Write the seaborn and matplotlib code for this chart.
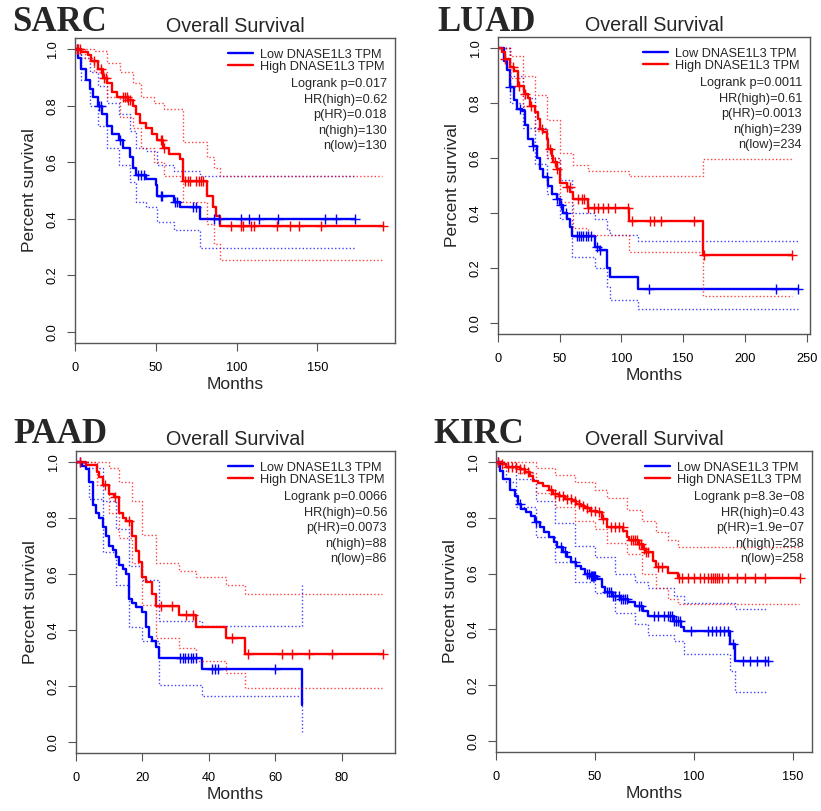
import numpy as np
import matplotlib
matplotlib.use("Agg")
import matplotlib.pyplot as plt
import seaborn as sns
from matplotlib.lines import Line2D

# ---- SARC ----
sarc_low_t = [0, 2, 4, 7, 9, 11, 14, 17, 20, 23, 27, 30, 34, 36, 38, 44, 50, 51, 61, 65, 77.5, 173.5]
sarc_low_s = [1, 0.97, 0.93, 0.89, 0.86, 0.83, 0.80, 0.77, 0.73, 0.70, 0.68, 0.65, 0.62, 0.58, 0.555, 0.54, 0.52, 0.48, 0.46, 0.44, 0.40, 0.40]
sarc_low_cens = [1, 15, 16, 28, 39, 41, 43, 53, 54, 62, 63, 73, 75, 86, 89, 102.7, 107.8, 113.6, 125.6, 154.5, 161.5, 173.5]
sarc_low_ci_t = [0, 4, 9, 14, 20, 27, 34, 38, 44, 51, 61, 77.5, 173.5]
sarc_low_up = [1, 0.97, 0.92, 0.87, 0.81, 0.77, 0.71, 0.65, 0.64, 0.59, 0.57, 0.553, 0.553]
sarc_low_lo = [1, 0.89, 0.80, 0.73, 0.65, 0.59, 0.53, 0.46, 0.44, 0.39, 0.36, 0.295, 0.295]

sarc_high_t = [0, 4, 8, 10, 14.5, 17.5, 19.6, 22.7, 25.8, 33, 36, 38, 40, 44, 47.5, 50.6, 54.7, 58, 65, 66.7, 81.6, 85.3, 87.4, 90, 190.4]
sarc_high_s = [1, 0.99, 0.98, 0.96, 0.93, 0.90, 0.88, 0.85, 0.83, 0.82, 0.80, 0.77, 0.74, 0.72, 0.70, 0.68, 0.65, 0.63, 0.61, 0.535, 0.48, 0.44, 0.41, 0.375, 0.375]
sarc_high_cens = [1, 2, 3, 12, 16, 18, 19, 30, 31, 32, 33, 34, 53, 54, 55, 68, 70, 71, 75, 77, 78, 79,
                  96.7, 102.9, 103.7, 108.9, 110.5, 125, 132.8, 138.8, 152.4, 190.4]
sarc_high_ci_t = [0, 6, 12, 20, 28, 36, 41, 49, 55, 66.7, 81.6, 86, 90, 190]
sarc_high_up = [1, 1, 0.995, 0.95, 0.92, 0.88, 0.83, 0.81, 0.79, 0.67, 0.62, 0.58, 0.553, 0.553]
sarc_high_lo = [1, 0.97, 0.92, 0.83, 0.76, 0.72, 0.65, 0.60, 0.55, 0.46, 0.38, 0.31, 0.254, 0.254]

# ---- LUAD ----
luad_low_t = [0, 4.5, 7.2, 10, 12.6, 15.3, 19.3, 22, 24.7, 28.7, 31.4, 34, 36.7, 40.8, 43.5, 47.5, 50.2, 52.8,
              55.5, 58.2, 60, 78.3, 82.4, 88.3, 90.4, 113, 243]
luad_low_s = [1, 0.954, 0.92, 0.857, 0.81, 0.78, 0.77, 0.72, 0.67, 0.645, 0.60, 0.56, 0.53, 0.50, 0.47, 0.45, 0.43, 0.40,
              0.38, 0.35, 0.318, 0.275, 0.267, 0.20, 0.166, 0.124, 0.124]
luad_low_cens = [10, 18, 28.7, 39.4, 47.5, 51, 55, 63.6, 65.5, 67, 69, 71, 73, 75.6, 80.5, 82.5, 122.6, 225, 243]
luad_low_ci_t = [0, 10, 20, 30, 40, 50, 60, 78.3, 88.3, 90.4, 113, 243]
luad_low_up = [1, 0.90, 0.82, 0.71, 0.60, 0.52, 0.40, 0.38, 0.34, 0.32, 0.297, 0.297]
luad_low_lo = [1, 0.80, 0.71, 0.58, 0.47, 0.38, 0.24, 0.20, 0.13, 0.084, 0.051, 0.051]

luad_high_t = [0, 3.2, 5.9, 10, 12.6, 15.8, 16.6, 20.7, 22, 24, 26, 30, 32.7, 34, 36.7, 39.4, 40.8, 43.5, 44.8,
               47.5, 50.2, 55.5, 58.2, 61, 73, 106.5, 166, 238]
luad_high_s = [1, 0.984, 0.96, 0.93, 0.917, 0.90, 0.863, 0.845, 0.833, 0.82, 0.79, 0.766, 0.742, 0.705, 0.693, 0.67,
               0.633, 0.608, 0.584, 0.56, 0.51, 0.493, 0.475, 0.45, 0.42, 0.372, 0.247, 0.247]
luad_high_cens = [6, 12, 17, 22, 27, 36, 42, 46, 48, 56, 58, 65, 68, 70, 73, 78, 81, 85, 89, 95, 105, 108.6,
                  123, 126, 132, 159, 166.5, 238]
luad_high_ci_t = [0, 10, 20, 30, 40, 50, 61, 73, 106.5, 166, 238]
luad_high_up = [1, 0.97, 0.90, 0.83, 0.74, 0.62, 0.576, 0.554, 0.536, 0.596, 0.596]
luad_high_lo = [1, 0.89, 0.79, 0.70, 0.60, 0.44, 0.344, 0.32, 0.257, 0.10, 0.10]

# ---- PAAD ----
paad_low_t = [0, 1.8, 3, 4, 5, 6, 7, 8, 9, 10, 11, 12, 13, 14, 15, 16, 17, 18, 20, 21, 22, 23, 24, 25, 38, 68]
paad_low_s = [1, 0.988, 0.976, 0.93, 0.846, 0.82, 0.80, 0.77, 0.735, 0.70, 0.685, 0.66, 0.634, 0.617, 0.60, 0.51,
              0.495, 0.483, 0.465, 0.41, 0.376, 0.359, 0.338, 0.298, 0.26, 0.13]
paad_low_cens = [1.3, 31.3, 32.1, 32.9, 33.7, 34.5, 35.3, 36.1, 41, 41.8, 42.6, 60]
paad_low_ci_t = [0, 4, 8, 12, 16, 20, 25, 38, 68]
paad_low_up = [1, 0.98, 0.86, 0.76, 0.63, 0.58, 0.433, 0.414, 0.56]
paad_low_lo = [1, 0.87, 0.68, 0.56, 0.41, 0.36, 0.203, 0.165, 0.034]

paad_high_t = [0, 3, 6.3, 7, 8, 10, 11.3, 13, 14, 15, 17, 18, 19, 20, 21, 23, 24, 31, 36, 45, 51, 92.3]
paad_high_s = [1, 0.99, 0.964, 0.946, 0.917, 0.887, 0.875, 0.82, 0.80, 0.79, 0.736, 0.683, 0.644, 0.59, 0.572,
               0.53, 0.486, 0.454, 0.41, 0.37, 0.315, 0.315]
paad_high_cens = [1.3, 8.8, 11.8, 16, 25.5, 29, 33, 35.3, 47, 51.8, 62, 65, 70, 77, 92.3]
paad_high_ci_t = [0, 6.3, 10, 13, 17, 20, 24, 31, 36, 45, 51, 92]
paad_high_up = [1, 1, 0.98, 0.93, 0.86, 0.74, 0.638, 0.61, 0.59, 0.56, 0.53, 0.53]
paad_high_lo = [1, 0.92, 0.82, 0.73, 0.64, 0.49, 0.37, 0.335, 0.29, 0.246, 0.192, 0.192]

# ---- KIRC ----
kirc_low_t = [0, 2, 3.7, 7, 9.5, 11, 12.8, 15.3, 17.8, 19.5, 22, 24.4, 27, 29.4, 31, 33.6, 36, 37.8, 40.2, 42.7,
              45.2, 47.7, 51, 53.5, 55.2, 58.5, 62.7, 66.9, 70.2, 74.3, 76.8, 90, 93.5, 95, 118, 120.9, 137.5]
kirc_low_s = [1, 0.97, 0.94, 0.90, 0.88, 0.85, 0.832, 0.82, 0.808, 0.784, 0.766, 0.748, 0.73, 0.712, 0.695, 0.677,
              0.659, 0.64, 0.629, 0.617, 0.599, 0.593, 0.581, 0.551, 0.533, 0.521, 0.509, 0.50, 0.485, 0.467, 0.449,
              0.431, 0.407, 0.393, 0.347, 0.287, 0.287]
kirc_low_cens = [1, 12, 20, 33, 35, 40, 46, 47, 48, 48.5, 49, 49.5, 50, 56, 57, 58, 59, 60, 62, 63, 64, 65, 66,
                 72, 73, 80, 82, 85, 87, 88, 89, 90, 91, 92, 93, 98.5, 107, 109, 111, 113, 115, 117, 119.5,
                 125, 128.4, 131.7, 135.9, 137.5]
kirc_low_ci_t = [0, 5, 10, 20, 30, 40, 50, 60, 70, 76.8, 90, 95, 118, 120.9, 137]
kirc_low_up = [1, 0.99, 0.94, 0.86, 0.78, 0.70, 0.66, 0.60, 0.57, 0.55, 0.52, 0.495, 0.495, 0.473, 0.473]
kirc_low_lo = [1, 0.93, 0.84, 0.73, 0.64, 0.57, 0.53, 0.46, 0.42, 0.38, 0.36, 0.311, 0.25, 0.174, 0.174]

kirc_high_t = [0, 2.8, 5.3, 12, 14.5, 17, 18.6, 21, 23.6, 27, 28.6, 32, 35, 38.6, 40.2, 42.7, 45.2, 47.7, 51,
               53.5, 56, 64.4, 66, 67, 71.8, 74.3, 76, 79.3, 81, 86.8, 91.8, 153.5]
kirc_high_s = [1, 0.994, 0.984, 0.976, 0.964, 0.952, 0.934, 0.925, 0.916, 0.90, 0.884, 0.877, 0.868, 0.86, 0.85,
               0.844, 0.835, 0.826, 0.82, 0.796, 0.766, 0.754, 0.73, 0.719, 0.706, 0.689, 0.677, 0.647, 0.623,
               0.602, 0.583, 0.583]
kirc_high_cens = [1, 3, 6, 8, 10, 12, 14, 16, 28, 30, 32, 34, 36, 38, 40, 42, 44, 46, 48, 50, 52, 54, 58, 60, 62,
                  64, 68, 69, 70, 71, 72, 73, 75, 76, 77, 82, 84, 92.5, 94, 97, 100, 103, 105, 107, 108.5, 109.5,
                  110.5, 111.5, 112.5, 114, 117, 122, 126, 131, 136, 153.5]
kirc_high_ci_t = [0, 10, 20, 30, 40, 50, 56, 66, 74, 81, 86.8, 91.8, 153]
kirc_high_up = [1, 1, 0.98, 0.955, 0.93, 0.90, 0.87, 0.83, 0.79, 0.75, 0.72, 0.695, 0.695]
kirc_high_lo = [1, 0.96, 0.89, 0.84, 0.79, 0.76, 0.71, 0.67, 0.60, 0.55, 0.51, 0.491, 0.491]

sarc_stats = ["Logrank p=0.017", "HR(high)=0.62", "p(HR)=0.018", "n(high)=130", "n(low)=130"]
luad_stats = ["Logrank p=0.0011", "HR(high)=0.61", "p(HR)=0.0013", "n(high)=239", "n(low)=234"]
paad_stats = ["Logrank p=0.0066", "HR(high)=0.56", "p(HR)=0.0073", "n(high)=88", "n(low)=86"]
kirc_stats = ["Logrank p=8.3e\u221208", "HR(high)=0.43", "p(HR)=1.9e\u221207", "n(high)=258", "n(low)=258"]

LOW_COLOR = "#0000FF"
HIGH_COLOR = "#FF0000"

sns.set_style("white")
plt.rcParams["font.family"] = ["Liberation Sans", "DejaVu Sans"]

W, H = 821, 811
fig = plt.figure(figsize=(W / 100, H / 100), dpi=100)


def step_value(t, s, x):
    idx = np.searchsorted(t, x, side="right") - 1
    return np.asarray(s)[np.clip(idx, 0, len(s) - 1)]


def draw_group(ax, t, s, cens, ci_t, up, lo, color):
    for band in (up, lo):
        sns.lineplot(x=ci_t, y=band, drawstyle="steps-post", color=color, linewidth=1.0,
                     linestyle=(0, (1, 1.6)), alpha=0.75, sort=False, estimator=None, ax=ax)
    sns.lineplot(x=t, y=s, drawstyle="steps-post", color=color, linewidth=1.7,
                 sort=False, estimator=None, ax=ax)
    sns.scatterplot(x=cens, y=step_value(t, s, cens), marker="+", s=50, color=color,
                    linewidth=1.0, ax=ax, zorder=4)


def make_panel(box, tag, tag_xy, xmax, xticks, groups, stats):
    left, right, top, bottom = box
    ax = fig.add_axes([left / W, 1 - bottom / H, (right - left) / W, (bottom - top) / H])
    for g, color in zip(groups, (LOW_COLOR, HIGH_COLOR)):
        draw_group(ax, *g, color)
    ax.set_xlim(0, xmax * 1.04)
    ax.set_ylim(-0.04, 1.04)
    ax.set_xticks(xticks)
    ax.set_yticks([0, 0.2, 0.4, 0.6, 0.8, 1.0])
    ax.set_yticklabels(["0.0", "0.2", "0.4", "0.6", "0.8", "1.0"], rotation=90, va="center")
    ax.tick_params(left=True, bottom=True, direction="out", length=5.8, width=0.8,
                   color="#555555", labelsize=9.2, labelcolor="black")
    ax.tick_params(axis="x", pad=8)
    ax.tick_params(axis="y", pad=6)
    for sp in ax.spines.values():
        sp.set_color("#555555")
        sp.set_linewidth(1.0)
        sp.set_visible(True)
    ax.set_xlabel("Months", fontsize=12.5, labelpad=2)
    ax.set_ylabel("Percent survival", fontsize=12.5, labelpad=7)
    ax.set_title("Overall Survival", fontsize=14.2, pad=4)
    handles = [Line2D([], [], color=LOW_COLOR, lw=1.7), Line2D([], [], color=HIGH_COLOR, lw=1.7)]
    ax.legend(handles, ["Low DNASE1L3 TPM", "High DNASE1L3 TPM"], loc="upper right",
              bbox_to_anchor=(1, 1), frameon=False, fontsize=9.2, handlelength=2.0,
              handletextpad=0.5, labelspacing=0.0, borderpad=0, borderaxespad=0.85)
    ax.annotate("\n".join(stats), xy=(1, 1), xycoords="axes fraction", xytext=(-8, -40),
                textcoords="offset pixels", ha="right", va="top", fontsize=9.2, linespacing=1.4)
    fig.text(tag_xy[0] / W, 1 - tag_xy[1] / H, tag, family="Liberation Serif", weight="bold",
             fontsize=25, ha="left", va="baseline")
    return ax


make_panel((75, 395, 38, 343), "SARC", (12, 31), 190.4, [0, 50, 100, 150],
           [(sarc_low_t, sarc_low_s, sarc_low_cens, sarc_low_ci_t, sarc_low_up, sarc_low_lo),
            (sarc_high_t, sarc_high_s, sarc_high_cens, sarc_high_ci_t, sarc_high_up, sarc_high_lo)],
           sarc_stats)
make_panel((498, 810, 37, 334), "LUAD", (437, 31), 243, [0, 50, 100, 150, 200, 250],
           [(luad_low_t, luad_low_s, luad_low_cens, luad_low_ci_t, luad_low_up, luad_low_lo),
            (luad_high_t, luad_high_s, luad_high_cens, luad_high_ci_t, luad_high_up, luad_high_lo)],
           luad_stats)
make_panel((76, 395, 451, 753), "PAAD", (13, 443), 92.3, [0, 20, 40, 60, 80],
           [(paad_low_t, paad_low_s, paad_low_cens, paad_low_ci_t, paad_low_up, paad_low_lo),
            (paad_high_t, paad_high_s, paad_high_cens, paad_high_ci_t, paad_high_up, paad_high_lo)],
           paad_stats)
make_panel((496, 812, 451, 752), "KIRC", (433, 443), 153.5, [0, 50, 100, 150],
           [(kirc_low_t, kirc_low_s, kirc_low_cens, kirc_low_ci_t, kirc_low_up, kirc_low_lo),
            (kirc_high_t, kirc_high_s, kirc_high_cens, kirc_high_ci_t, kirc_high_up, kirc_high_lo)],
           kirc_stats)

fig.savefig("out.png", dpi=100)
